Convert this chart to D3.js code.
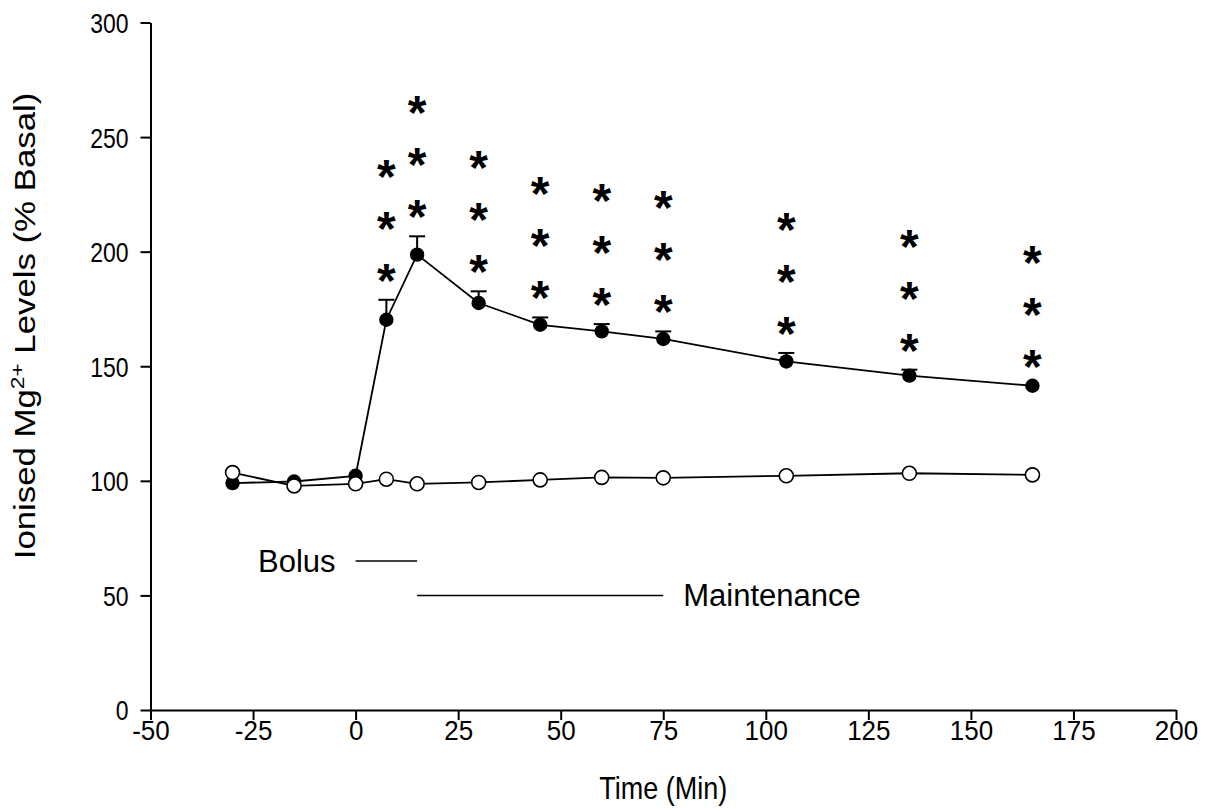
<!DOCTYPE html>
<html>
<head>
<meta charset="utf-8">
<script src="https://cdn.jsdelivr.net/npm/d3@7"></script>
<style>
	body { margin: 0; background: #fff; }
	svg text { font-family: "Liberation Sans", Arial, sans-serif; fill: #000; }
</style>
</head>
<body>
<div id="chart"></div>
<script>

// sampling times (min) relative to start of infusion
var times = [-30, -15, 0, 7.5, 15, 30, 45, 60, 75, 105, 135, 165];

// MgSO4 treated group, mean and SEM (% basal)
var mgTreated = [99.0, 99.7, 102.2, 170.3, 198.7, 177.6, 168.1, 165.2, 161.9, 152.1, 145.9, 141.5];
var mgTreatedSem = [0, 0, 0, 8.7, 8.0, 5.1, 3.2, 3.2, 3.3, 3.7, 2.6, 0];

// control group (% basal)
var mgControl = [103.6, 97.8, 98.7, 100.7, 98.7, 99.3, 100.4, 101.5, 101.3, 102.2, 103.3, 102.6];

// number of significance stars above each treated point
var starCount = [0, 0, 0, 3, 3, 3, 3, 3, 3, 3, 3, 3];

// infusion periods (min)
var bolusPeriod = [0, 15];
var maintPeriod = [15, 75];

var xTicks = [-50, -25, 0, 25, 50, 75, 100, 125, 150, 175, 200];
var yTicks = [0, 50, 100, 150, 200, 250, 300];

function makeChart() {

	var width = 1212, height = 809;

	var x = d3.scaleLinear()
		.domain([-50, 200])
		.range([150.5, 1176]);

	var y = d3.scaleLinear()
		.domain([0, 300])
		.range([710, 22.5]);

	var svg = d3.select("#chart")
		.append("svg")
		.attr("width", width)
		.attr("height", height);

	// plain hyphen for negatives, like the original
	var fmt = function(d) { return String(d); };

	// X axis
	var gx = svg.append("g")
		.attr("transform", "translate(0,710)")
		.call(d3.axisBottom(x).tickValues(xTicks).tickFormat(fmt).tickSize(10).tickSizeOuter(0));
	gx.attr("font-size", 26).attr("font-family", null);
	gx.selectAll("text")
		.attr("y", 30.5 / 1.08)
		.attr("dy", 0)
		.attr("transform", "scale(1,1.08)");

	// Y axis
	var gy = svg.append("g")
		.attr("transform", "translate(150.5,0)")
		.call(d3.axisLeft(y).tickValues(yTicks).tickFormat(fmt).tickSize(10).tickSizeOuter(0));
	gy.attr("font-size", 23).attr("font-family", null);
	gy.selectAll("text")
		.attr("x", -22)
		.attr("dy", "0.36em")
		.attr("transform", "scale(1,1.2)");

	svg.selectAll(".domain, .tick line")
		.attr("stroke", "#000")
		.attr("stroke-width", 2);

	// axis titles
	svg.append("text")
		.attr("transform", "translate(" + d3.mean(x.range()) + ",799) scale(1,1.15)")
		.attr("text-anchor", "middle")
		.attr("font-size", 27)
		.text("Time (Min)");

	var ylab = svg.append("text")
		.attr("transform", "translate(35,326) rotate(-90) scale(1.2,1)")
		.attr("text-anchor", "middle")
		.attr("font-size", 29);
	ylab.append("tspan").text("Ionised Mg");
	ylab.append("tspan").attr("font-size", "0.65em").attr("dy", "-0.6em").text("2+");
	ylab.append("tspan").attr("dy", "0.39em").text(" Levels (% Basal)");

	var treated = times.map(function(t, i) {
		return {t: t, v: mgTreated[i], sem: mgTreatedSem[i], stars: starCount[i]};
	});
	var control = times.map(function(t, i) {
		return {t: t, v: mgControl[i]};
	});

	var line = d3.line()
		.x(function(d) { return x(d.t); })
		.y(function(d) { return y(d.v); });

	// error bars (upper only)
	var eb = svg.append("g")
		.attr("stroke", "#000")
		.attr("stroke-width", 2)
		.selectAll("g")
		.data(treated.filter(function(d) { return d.sem > 0; }))
		.enter()
		.append("g");
	eb.append("line")
		.attr("x1", function(d) { return x(d.t); })
		.attr("x2", function(d) { return x(d.t); })
		.attr("y1", function(d) { return y(d.v); })
		.attr("y2", function(d) { return y(d.v + d.sem); });
	eb.append("line")
		.attr("x1", function(d) { return x(d.t) - 8; })
		.attr("x2", function(d) { return x(d.t) + 8; })
		.attr("y1", function(d) { return y(d.v + d.sem); })
		.attr("y2", function(d) { return y(d.v + d.sem); });

	// lines
	svg.append("path")
		.datum(treated)
		.attr("fill", "none")
		.attr("stroke", "#000")
		.attr("stroke-width", 1.8)
		.attr("d", line);

	svg.append("path")
		.datum(control)
		.attr("fill", "none")
		.attr("stroke", "#000")
		.attr("stroke-width", 1.8)
		.attr("d", line);

	// markers
	svg.selectAll(".treated")
		.data(treated)
		.enter()
		.append("circle")
		.attr("class", "treated")
		.attr("cx", function(d) { return x(d.t); })
		.attr("cy", function(d) { return y(d.v); })
		.attr("r", 7.2)
		.attr("fill", "#000");

	svg.selectAll(".control")
		.data(control)
		.enter()
		.append("circle")
		.attr("class", "control")
		.attr("cx", function(d) { return x(d.t); })
		.attr("cy", function(d) { return y(d.v); })
		.attr("r", 7)
		.attr("fill", "#fff")
		.attr("stroke", "#000")
		.attr("stroke-width", 1.6);

	// significance stars
	var starData = [];
	treated.forEach(function(d) {
		for (var k = 0; k < d.stars; k++) {
			starData.push({t: d.t, top: d.v + d.sem, k: k});
		}
	});
	svg.selectAll(".star")
		.data(starData)
		.enter()
		.append("text")
		.attr("class", "star")
		.attr("text-anchor", "middle")
		.attr("font-size", 48)
		.attr("font-weight", "bold")
		.attr("x", function(d) { return x(d.t); })
		.attr("y", function(d) { return y(d.top) - 3 - d.k * 52; })
		.text("*");

	// infusion bars
	svg.append("line")
		.attr("x1", x(bolusPeriod[0]))
		.attr("x2", x(bolusPeriod[1]))
		.attr("y1", y(65))
		.attr("y2", y(65))
		.attr("stroke", "#000")
		.attr("stroke-width", 1.5);
	svg.append("text")
		.attr("x", x(bolusPeriod[0]) - 20)
		.attr("y", y(65) + 11)
		.attr("text-anchor", "end")
		.attr("font-size", 31)
		.text("Bolus");

	svg.append("line")
		.attr("x1", x(maintPeriod[0]))
		.attr("x2", x(maintPeriod[1]))
		.attr("y1", y(50))
		.attr("y2", y(50))
		.attr("stroke", "#000")
		.attr("stroke-width", 1.5);
	svg.append("text")
		.attr("x", x(maintPeriod[1]) + 20)
		.attr("y", y(50) + 11)
		.attr("font-size", 31)
		.text("Maintenance");
}

makeChart();

</script>
</body>
</html>
